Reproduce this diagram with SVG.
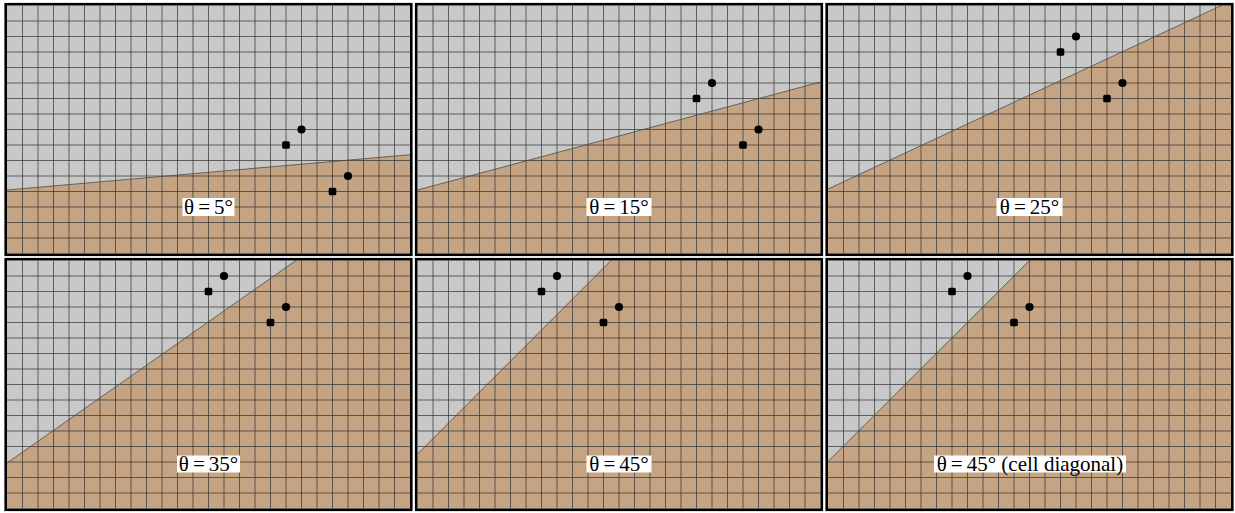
<svg xmlns="http://www.w3.org/2000/svg" xmlns:xlink="http://www.w3.org/1999/xlink" width="1235" height="513" viewBox="0 0 1235 513">
<style>
.bg{fill:#C8C8C8}
.soil{fill:#C5A483}
.iface{stroke:#4a4a4a;stroke-width:0.8;fill:none}
.grid{stroke:#333;stroke-width:0.8;fill:none;opacity:0.9}
.frame{fill:none;stroke:#000;stroke-width:2.6}
.dot{fill:#000}
.lbox{fill:#fff}
.lbl{font-family:"Liberation Serif","Times New Roman",serif;font-size:21px;fill:#000;text-anchor:middle}
</style>
<defs>
<path id="grid" class="grid" d="M15.5,0V248M31,0V248M46.5,0V248M62,0V248M77.5,0V248M93,0V248M108.5,0V248M124,0V248M139.5,0V248M155,0V248M170.5,0V248M186,0V248M201.5,0V248M217,0V248M232.5,0V248M248,0V248M263.5,0V248M279,0V248M294.5,0V248M310,0V248M325.5,0V248M341,0V248M356.5,0V248M372,0V248M387.5,0V248M0,15.5H403M0,31H403M0,46.5H403M0,62H403M0,77.5H403M0,93H403M0,108.5H403M0,124H403M0,139.5H403M0,155H403M0,170.5H403M0,186H403M0,201.5H403M0,217H403M0,232.5H403"/>
<rect id="sq" x="-3.8" y="-3.8" width="7.6" height="7.6" rx="1.6" class="dot"/>
<circle id="ci" r="4.1" class="dot"/>
</defs>

<g id="panel-1" transform="translate(7,5.5)">
<rect class="bg" width="403" height="248"/>
<polygon class="soil" points="0,184.5 403,149.2 403,248 0,248"/>
<use xlink:href="#grid" href="#grid"/>
<line class="iface" x1="0" y1="184.5" x2="403" y2="149.2"/>
<use href="#sq" x="279" y="139.5"/><use href="#ci" x="294.5" y="124"/>
<use href="#sq" x="325.5" y="186"/><use href="#ci" x="341" y="170.5"/>
<rect class="lbox" x="175.5" y="192.5" width="52" height="18"/>
<text class="lbl" x="201.5" y="208.5">θ<tspan dx="4">=</tspan><tspan dx="4">5°</tspan></text>
<rect class="frame" x="-1.3" y="-1.3" width="405.6" height="250.6"/>
</g>

<g id="panel-2" transform="translate(417.5,5.5)">
<rect class="bg" width="403" height="248"/>
<polygon class="soil" points="0,184.5 403,76.5 403,248 0,248"/>
<use href="#grid"/>
<line class="iface" x1="0" y1="184.5" x2="403" y2="76.5"/>
<use href="#sq" x="279" y="93"/><use href="#ci" x="294.5" y="77.5"/>
<use href="#sq" x="325.5" y="139.5"/><use href="#ci" x="341" y="124"/>
<rect class="lbox" x="169" y="192.5" width="65" height="18"/>
<text class="lbl" x="201.5" y="208.5">θ<tspan dx="4">=</tspan><tspan dx="4">15°</tspan></text>
<rect class="frame" x="-1.3" y="-1.3" width="405.6" height="250.6"/>
</g>

<g id="panel-3" transform="translate(828,5.5)">
<rect class="bg" width="403" height="248"/>
<polygon class="soil" points="0,183.5 393.5,0 403,0 403,248 0,248"/>
<use href="#grid"/>
<line class="iface" x1="0" y1="183.5" x2="393.5" y2="0"/>
<use href="#sq" x="232.5" y="46.5"/><use href="#ci" x="248" y="31"/>
<use href="#sq" x="279" y="93"/><use href="#ci" x="294.5" y="77.5"/>
<rect class="lbox" x="168.5" y="192.5" width="66" height="18"/>
<text class="lbl" x="201.5" y="208.5">θ<tspan dx="4">=</tspan><tspan dx="4">25°</tspan></text>
<rect class="frame" x="-1.3" y="-1.3" width="405.6" height="250.6"/>
</g>

<g id="panel-4" transform="translate(7,260.5)">
<rect class="bg" width="403" height="248"/>
<polygon class="soil" points="0,202.5 289,0 403,0 403,248 0,248"/>
<use href="#grid"/>
<line class="iface" x1="0" y1="202.5" x2="289" y2="0"/>
<use href="#sq" x="201.5" y="31"/><use href="#ci" x="217" y="15.5"/>
<use href="#sq" x="263.5" y="62"/><use href="#ci" x="279" y="46.5"/>
<rect class="lbox" x="170" y="195" width="63" height="17"/>
<text class="lbl" x="201.5" y="210.5">θ<tspan dx="4">=</tspan><tspan dx="4">35°</tspan></text>
<rect class="frame" x="-1.3" y="-1.3" width="405.6" height="250.6"/>
</g>

<g id="panel-5" transform="translate(417.5,260.5)">
<rect class="bg" width="403" height="248"/>
<polygon class="soil" points="0,193.5 193.5,0 403,0 403,248 0,248"/>
<use href="#grid"/>
<line class="iface" x1="0" y1="193.5" x2="193.5" y2="0"/>
<use href="#sq" x="124" y="31"/><use href="#ci" x="139.5" y="15.5"/>
<use href="#sq" x="186" y="62"/><use href="#ci" x="201.5" y="46.5"/>
<rect class="lbox" x="169" y="195" width="65" height="17"/>
<text class="lbl" x="201.5" y="210.5">θ<tspan dx="4">=</tspan><tspan dx="4">45°</tspan></text>
<rect class="frame" x="-1.3" y="-1.3" width="405.6" height="250.6"/>
</g>

<g id="panel-6" transform="translate(828,260.5)">
<rect class="bg" width="403" height="248"/>
<polygon class="soil" points="0,201 201.5,0 403,0 403,248 0,248"/>
<use href="#grid"/>
<line class="iface" x1="0" y1="201" x2="201.5" y2="0"/>
<use href="#sq" x="124" y="31"/><use href="#ci" x="139.5" y="15.5"/>
<use href="#sq" x="186" y="62"/><use href="#ci" x="201.5" y="46.5"/>
<rect class="lbox" x="106" y="195" width="192" height="17"/>
<text class="lbl" x="202" y="210.5">θ<tspan dx="4">=</tspan><tspan dx="4">45°</tspan> (cell diagonal)</text>
<rect class="frame" x="-1.3" y="-1.3" width="405.6" height="250.6"/>
</g>
</svg>
